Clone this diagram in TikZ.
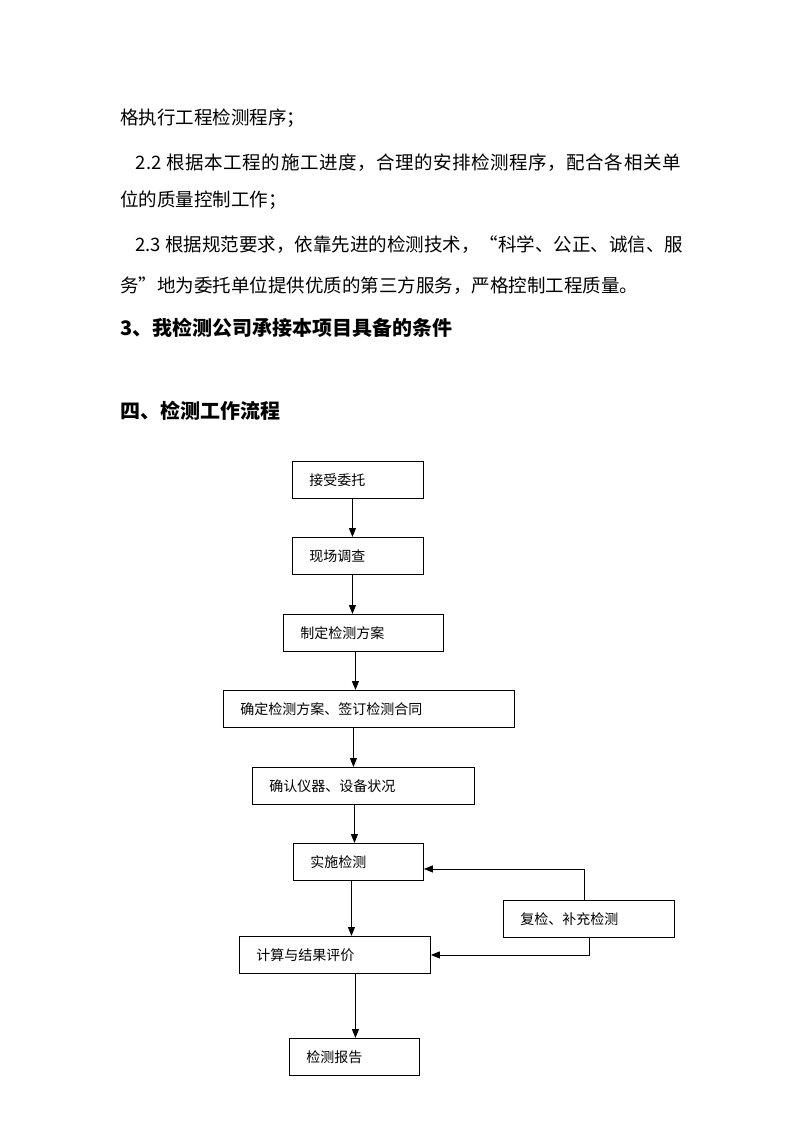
\documentclass[tikz,border=0pt]{standalone}
\usepackage{fontspec}
\newfontfamily\cjk{Noto Sans CJK SC}
\usepackage{tikz}
\usetikzlibrary{arrows.meta, positioning, calc}

\begin{document}
\begin{tikzpicture}[x=1pt, y=-1pt,
  bodytext/.style={anchor=west, inner sep=0pt, font=\fontsize{18.5}{18.5}\selectfont\cjk},
  headtext/.style={anchor=west, inner sep=0pt, font=\fontsize{20}{20}\selectfont\cjk\bfseries},
  stepbox/.style={draw, line width=0.9pt, anchor=north west, inner xsep=17pt, inner ysep=0pt,
    minimum height=37pt, align=left, font=\fontsize{14}{14}\selectfont\cjk},
  flowarrow/.style={draw, line width=0.9pt, -{Triangle[length=9pt, width=7pt]}}]
  \useasboundingbox[fill=white] (0,0) rectangle (800,1132);

  % Body text
  \node[bodytext] (line1) at (120,118) {格执行工程检测程序；};
  \node[bodytext] (line2) at (135,163) {\addfontfeature{LetterSpace=3}2.2 根据本工程的施工进度，合理的安排检测程序，配合各相关单};
  \node[bodytext] (line3) at (120,200) {位的质量控制工作；};
  \node[bodytext] (line4) at (135,245) {2.3 根据规范要求，依靠先进的检测技术，“科学、公正、诚信、服};
  \node[bodytext] (line5) at (120,286) {务”地为委托单位提供优质的第三方服务，严格控制工程质量。};

  % Headings
  \node[headtext] (head3) at (120,328) {3、我检测公司承接本项目具备的条件};
  \node[headtext] (head4) at (120,411) {四、检测工作流程};

  % Flow steps
  \node[stepbox, text width=97pt] (b1) at (292,461) {接受委托};
  \node[stepbox, text width=97pt] (b2) at (292,537) {现场调查};
  \node[stepbox, text width=126pt] (b3) at (283,614) {制定检测方案};
  \node[stepbox, text width=257pt] (b4) at (223,690) {确定检测方案、签订检测合同};
  \node[stepbox, text width=188pt] (b5) at (252,767) {确认仪器、设备状况};
  \node[stepbox, text width=96pt] (b6) at (293,843) {实施检测};
  \node[stepbox, text width=137pt] (b7) at (503,900) {复检、补充检测};
  \node[stepbox, text width=157pt] (b8) at (239,936) {计算与结果评价};
  \node[stepbox, text width=96pt] (b9) at (289,1038) {检测报告};

  % Main flow
  \foreach \a/\b/\dx in {b1/b2/-5.5, b2/b3/-5.5, b3/b4/-8, b4/b5/-15.5, b5/b6/-9, b6/b8/-7, b8/b9/20.5}
    \draw[flowarrow] ($(\a.south)+(\dx,0)$) -- ($(\a.south |- \b.north)+(\dx,0)$);

  % Recheck loop
  \draw[flowarrow] ($(b7.north)+(-4.5,0)$) |- ($(b6.east)+(0,7)$);
  \draw[flowarrow] (b7.south) |- (b8.east);
\end{tikzpicture}
\end{document}
